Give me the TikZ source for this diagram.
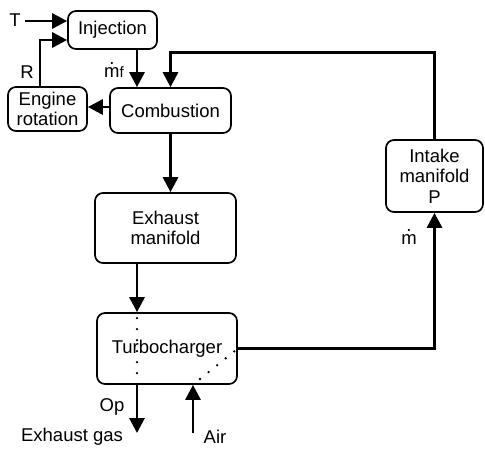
\documentclass[tikz,border=0pt]{standalone}
\usepackage{fontspec}
\setmainfont{Liberation Sans}
\usetikzlibrary{arrows.meta}
\newcommand{\mdotted}{{\ooalign{m\cr\hidewidth\raisebox{0.72em}{.}\hidewidth\cr}}}
\begin{document}
\begin{tikzpicture}[x=1pt,y=-1pt,
  box/.style={draw,line width=1.7pt,rounded corners=8pt,align=center,inner sep=0pt,
    font=\fontsize{18.5}{20.5}\selectfont},
  lab/.style={inner sep=0pt,font=\fontsize{18.5}{20.5}\selectfont},
  arr/.style={line width=2.9pt,-{Triangle[length=15pt,width=15pt]}},
  dots/.style={line width=2.6pt,line cap=round,dash pattern=on 0pt off 11pt}]
\useasboundingbox (0,0) rectangle (485,448);
\node[box,minimum width=89pt,minimum height=38pt] (inj) at (112.5,30) {Injection};
\node[box,minimum width=121pt,minimum height=45pt] (comb) at (170.5,110.5) {Combustion};
\node[box,minimum width=79pt,minimum height=44pt] (eng) at (47.5,109) {Engine\\rotation};
\node[box,minimum width=97pt,minimum height=72pt] (intk) at (434.5,176) {Intake\\manifold\\P};
\node[box,minimum width=141pt,minimum height=70pt] (exh) at (165.5,228) {Exhaust\\manifold};
\node[box,minimum width=140pt,minimum height=71pt] (turbo) at (167,348.5) {Turbocharger};
\node[lab] (tlab) at (15,20) {T};
\node[lab] (rlab) at (27,72) {R};
\node[lab] (mflab) at (114,72) {\mdotted{\fontsize{15}{16}\selectfont f}};
\node[lab] (mlab) at (409,240) {\mdotted};
\node[lab] (oplab) at (112,407) {Op};
\node[lab] (exgas) at (72,437) {Exhaust gas};
\node[lab] (airlab) at (215,437) {Air};
\coordinate (xa) at (137,0);
\coordinate (opend) at (137,433);
\coordinate (airst) at (193,433);
\coordinate (d1) at (200,379);
% arrows
\draw[arr] ([xshift=4pt,yshift=-1pt]tlab.east) -- ([yshift=-1pt]tlab.east -| inj.west);
\draw[arr] ([xshift=-7.5pt]eng.north) |- ([yshift=-10pt]inj.west);
\draw[arr] (xa |- inj.south) -- (xa |- comb.north);
\draw[arr] (intk.north) -- ++(0,-87) -| (comb.north);
\draw[arr] ([yshift=3.5pt]comb.west) -- ([yshift=3.5pt]comb.west -| eng.east);
\draw[arr] (comb.south) -- (comb.south |- exh.north);
\draw[arr] (xa |- exh.south) -- (xa |- turbo.north);
\draw[arr] (turbo.east) -| (intk.south);
\draw[arr] (xa |- turbo.south) -- (opend);
\draw[arr] (airst) -- (airst |- turbo.south);
\draw[dots] ([yshift=-6pt]xa |- turbo.north) -- (xa |- turbo.south);
\draw[dots] (d1) -- (turbo.east);
\end{tikzpicture}
\end{document}
